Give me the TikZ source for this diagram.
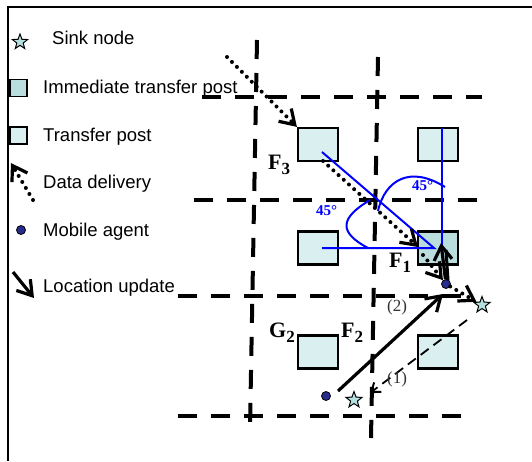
\documentclass[tikz,border=0pt]{standalone}
\usepackage{fontspec}
\setmainfont{Liberation Serif}
\newfontfamily\arialf{Liberation Sans}
\usetikzlibrary{arrows.meta,shapes.geometric}
\definecolor{postfill}{RGB}{218,239,239}
\definecolor{ipostfill}{RGB}{186,222,222}
\definecolor{sinkfill}{RGB}{180,224,226}
\definecolor{agentfill}{RGB}{40,44,140}
\begin{document}
\begin{tikzpicture}[x=1pt,y=-1pt,
  gridline/.style={line width=4pt, dash pattern=on 19pt off 14pt},
  post/.style={draw, line width=2.2pt, fill=postfill, minimum width=40pt, minimum height=33pt, inner sep=0pt},
  ipost/.style={post, fill=ipostfill},
  agent/.style={circle, draw, line width=0.8pt, fill=agentfill, minimum size=9pt, inner sep=0pt},
  sink/.style={star, star points=5, star point ratio=2.4, draw, line width=1pt, fill=sinkfill, minimum size=17pt, inner sep=0pt},
  deliv/.style={line width=4pt, line cap=round, dash pattern=on 0pt off 7pt, -{Straight Barb[length=14pt,width=18pt,line width=3.2pt]}},
  locup/.style={line width=3.2pt, -{Straight Barb[length=14pt,width=18pt]}},
  dupd/.style={line width=1.8pt, dash pattern=on 10pt off 6pt, -{Straight Barb[length=8pt,width=12pt,line width=2pt]}},
  bline/.style={blue, line width=2pt},
  lbl/.style={font=\fontsize{22}{22}\selectfont\bfseries, inner sep=0pt, anchor=base west},
  deg/.style={blue, font=\fontsize{15}{15}\selectfont\bfseries, inner sep=0pt, anchor=base west},
  num/.style={black!80, font=\fontsize{17}{17}\selectfont, inner sep=0pt, anchor=base west},
  legtext/.style={font=\arialf\fontsize{18.5}{18.5}\selectfont, anchor=base west, inner sep=0pt}]
\useasboundingbox (0,0) rectangle (532,461);
\fill[white] (0,0) rectangle (532,461);
% frame
\draw[line width=1.5pt] (8,461) -- (8,7) -- (532,7);

% legend
\node[sink, minimum size=16pt] (lsink) at (20,42) {};
\node[legtext] (tsink) at (52,44) {Sink node};
\node[ipost, minimum width=17pt, minimum height=17pt, line width=1.8pt] (lipost) at (18.5,88) {};
\node[legtext] (tipost) at (43,93) {Immediate transfer post};
\node[post, minimum width=17pt, minimum height=17pt, line width=1.8pt] (lpost) at (18.5,135.5) {};
\node[legtext] (tpost) at (43,141) {Transfer post};
\coordinate (ld1) at (33,200);
\coordinate (ld2) at (11,163);
\draw[deliv] (ld1) -- (ld2);
\node[legtext] (tdeliv) at (43,188) {Data delivery};
\node[agent] (lagent) at (21,230) {};
\node[legtext] (tagent) at (43,236) {Mobile agent};
\coordinate (lu1) at (13,272);
\coordinate (lu2) at (34,298);
\draw[locup] (lu1) -- (lu2);
\node[legtext] (tlocup) at (43,292) {Location update};

% grid
\draw[gridline] (257,40) -- (250,428);
\draw[gridline] (378,57) -- (371,438);
\draw[gridline] (202,97) -- (482,97);
\draw[gridline] (194,200) -- (482,200);
\draw[gridline] (178,296) -- (470,296);
\draw[gridline] (178,416) -- (466,416);

% posts
\node[post] (A) at (318,144.5) {};
\node[post] (B) at (438,144.5) {};
\node[post] (C) at (318,248) {};
\node[ipost] (D) at (438,248) {};
\node[post] (E) at (318,352) {};
\node[post] (G) at (438,352) {};

% blue angle construction
\coordinate (b1) at (322,152);
\coordinate (b2) at (434,248);
\coordinate (b3) at (322,248);
\coordinate (b4) at (442,128);
\coordinate (b5) at (442,248);
\draw[bline] (b1) -- (b2) -- (b3);
\draw[bline] (b4) -- (b5);
\draw[bline] (370,200) .. controls (340,218) and (338,232) .. (368,248);
\draw[bline] (378,211) .. controls (385,180) and (410,165) .. (445,187);
\node[deg] (a1) at (316,215) {45°};
\node[deg] (a2) at (412,190) {45°};

% agents and sinks
\node[agent] (m1) at (446,284) {};
\node[agent] (m2) at (326,396) {};
\node[sink] (s1) at (482,305) {};
\node[sink] (s2) at (354,400) {};

% data delivery
\coordinate (d0) at (227,57);
\draw[deliv] (d0) -- (A.north west);
\coordinate (d1) at (323,161);
\coordinate (d1e) at (418,247);
\draw[deliv] (d1) -- (d1e);
\coordinate (d2) at (423,255);
\draw[deliv] (d2) -- (m1);
\draw[deliv] (m1) -- (s1);

% location updates
\coordinate (u1) at (441,243);
\coordinate (u2) at (448,280);
\coordinate (u3) at (446,250);
\draw[locup] (m1) -- (u1);
\draw[line width=3pt] (u2) -- (u3);
\coordinate (l2s) at (338,391);
\coordinate (l2e) at (443,294);
\draw[locup] (l2s) -- (l2e);
\coordinate (l1s) at (467,320);
\coordinate (l1e) at (370,393);
\draw[dupd] (l1s) -- (l1e);

% labels
\node[lbl] (F3) at (268,169) {F\raisebox{-5pt}{\fontsize{17}{17}\selectfont 3}};
\node[lbl] (F1) at (389,267) {F\raisebox{-5pt}{\fontsize{17}{17}\selectfont 1}};
\node[lbl] (G2) at (269,337) {G\raisebox{-5pt}{\fontsize{17}{17}\selectfont 2}};
\node[lbl] (F2) at (341,337) {F\raisebox{-5pt}{\fontsize{17}{17}\selectfont 2}};
\node[num] (n2) at (387,311) {(2)};
\node[num] (n1) at (387,383) {(1)};
\end{tikzpicture}
\end{document}
